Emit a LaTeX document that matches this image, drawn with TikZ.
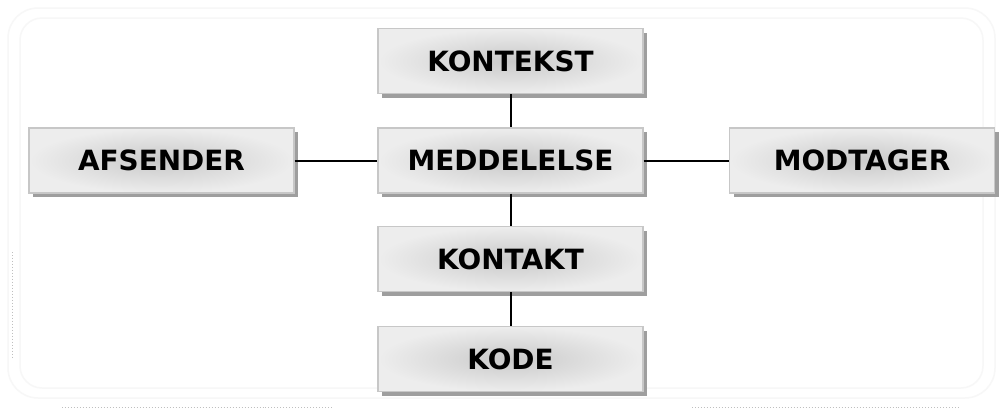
\documentclass[tikz,border=0pt]{standalone}
\usepackage{fontspec}
\setmainfont{DejaVu Sans}
\usetikzlibrary{shadows}
\begin{document}
\begin{tikzpicture}[x=1bp,y=-1bp,
  box/.style={draw=black!22, line width=1.2bp, minimum width=265bp, minimum height=65bp,
    inner color=black!21, outer color=black!7, inner sep=0pt,
    font=\fontsize{28}{32}\selectfont\bfseries,
    drop shadow={shadow xshift=4bp, shadow yshift=-4bp, fill=black!38, opacity=1}},
  link/.style={line width=2bp, black},
  faint/.style={draw=black!3, line width=1.5bp}]
\useasboundingbox (0,0) rectangle (1003,410);
\fill[white] (0,0) rectangle (1003,410);
% faint frame
\draw[faint, rounded corners=30bp] (8,8) rectangle (995,398);
\draw[faint, rounded corners=22bp] (20,18) rectangle (983,388);
\draw[black!25, dotted, line width=1bp] (62,407) -- (333,407);
\draw[black!25, dotted, line width=1bp] (692,407) -- (960,407);
\draw[black!25, dotted, line width=1bp] (12,252) -- (12,357);
% boxes
\node[box] (kontekst) at (510.5,61) {KONTEKST};
\node[box] (meddelelse) at (510.5,160.5) {MEDDELELSE};
\node[box] (afsender) at (161.5,160.5) {AFSENDER};
\node[box] (modtager) at (862,160.5) {MODTAGER};
\node[box] (kontakt) at (510.5,259) {KONTAKT};
\node[box] (kode) at (510.5,359) {KODE};
% connectors
\draw[link] (kontekst) -- (meddelelse);
\draw[link] (afsender) -- (meddelelse);
\draw[link] (meddelelse) -- (modtager);
\draw[link] (meddelelse) -- (kontakt);
\draw[link] (kontakt) -- (kode);
\end{tikzpicture}
\end{document}
